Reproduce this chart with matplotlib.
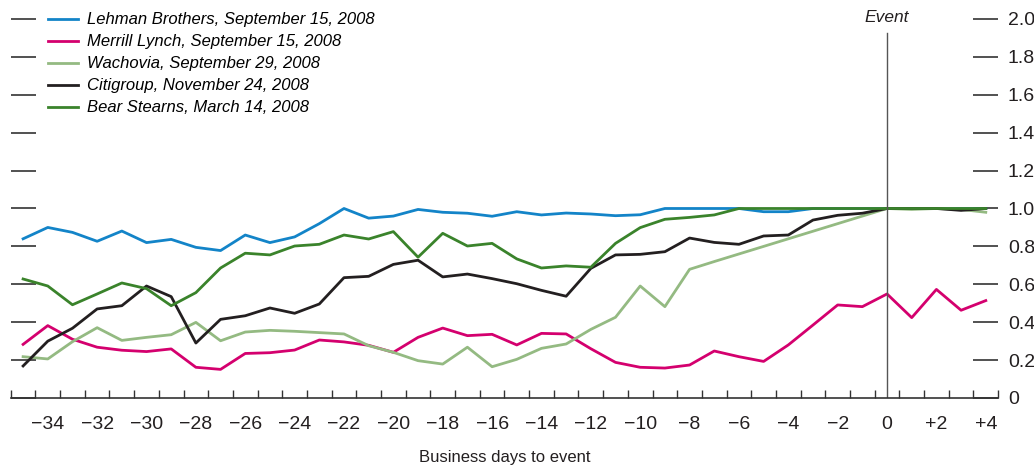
import numpy as np
import matplotlib.pyplot as plt
from matplotlib.ticker import FixedLocator

plt.rcParams['font.family'] = ['Liberation Sans Narrow', 'Liberation Sans', 'DejaVu Sans']

days = np.arange(-35, 5)

lehman = [0.84, 0.90, 0.874, 0.827, 0.881, 0.82, 0.837, 0.795, 0.778, 0.86,
          0.82, 0.85, 0.92, 1.0, 0.949, 0.96, 0.995, 0.98, 0.975, 0.959,
          0.983, 0.966, 0.976, 0.971, 0.962, 0.967, 1.0, 1.0, 1.0, 1.0,
          0.983, 0.983, 1.0, 1.0, 1.0, 1.0, 1.0, 1.0, 1.0, 1.0]
merrill = [0.283, 0.382, 0.31, 0.268, 0.252, 0.245, 0.259, 0.162, 0.151, 0.235,
           0.239, 0.253, 0.306, 0.296, 0.278, 0.241, 0.32, 0.369, 0.329, 0.336,
           0.28, 0.341, 0.338, 0.26, 0.188, 0.162, 0.158, 0.174, 0.248, 0.218,
           0.193, 0.28, 0.385, 0.491, 0.482, 0.549, 0.424, 0.573, 0.463, 0.514]
wachovia = [0.218, 0.206, 0.297, 0.371, 0.304, 0.32, 0.334, 0.399, 0.302, 0.348,
            0.357, 0.352, 0.345, 0.338, 0.276, 0.241, 0.197, 0.179, 0.268, 0.165,
            0.204, 0.262, 0.285, 0.362, 0.426, 0.591, 0.482, 0.679, 0.72, 0.76,
            0.80, 0.84, 0.88, 0.92, 0.96, 1.0, 0.995, 1.0, 0.995, 0.98]
citi = [0.169, 0.30, 0.368, 0.47, 0.487, 0.591, 0.535, 0.29, 0.415, 0.434,
        0.475, 0.447, 0.496, 0.635, 0.642, 0.705, 0.727, 0.639, 0.654, 0.63,
        0.603, 0.568, 0.537, 0.684, 0.755, 0.758, 0.772, 0.844, 0.821, 0.811,
        0.855, 0.86, 0.939, 0.964, 0.975, 1.0, 1.0, 1.0, 0.99, 1.0]
bear = [0.628, 0.591, 0.492, 0.549, 0.607, 0.577, 0.487, 0.556, 0.686, 0.764,
        0.755, 0.802, 0.811, 0.86, 0.839, 0.878, 0.743, 0.869, 0.802, 0.816,
        0.734, 0.686, 0.697, 0.69, 0.816, 0.899, 0.943, 0.953, 0.966, 1.0,
        1.0, 1.0, 1.0, 1.0, 1.0, 1.0, 1.0, 1.0, 1.0, 1.0]

names = ['Lehman Brothers, September 15, 2008', 'Merrill Lynch, September 15, 2008',
         'Wachovia, September 29, 2008', 'Citigroup, November 24, 2008',
         'Bear Stearns, March 14, 2008']
series = [lehman, merrill, wachovia, citi, bear]
colors = ['#1384c8', '#d4006e', '#94ba82', '#231f20', '#3a832b']

xtick_pos = list(range(-34, 5, 2))
xtick_labels = [('+%d' % t if t > 0 else ('0' if t == 0 else '\u2212%d' % -t)) for t in xtick_pos]
ytick_pos = [0, 0.2, 0.4, 0.6, 0.8, 1.0, 1.2, 1.4, 1.6, 1.8, 2.0]
ytick_labels = ['0', '0.2', '0.4', '0.6', '0.8', '1.0', '1.2', '1.4', '1.6', '1.8', '2.0']

fig = plt.figure(figsize=(10.34, 4.70), dpi=100)
ax = fig.add_axes([0.0104, 0.1532, 0.9549, 0.8064])

for vals, nm, c in zip(series, names, colors):
    ax.plot(days, vals, color=c, lw=2, label=nm)

# event marker
ax.axvline(0, ymax=0.963, color='#555555', lw=1)
ax.text(0, 2.01, 'Event', ha='center', va='center', fontsize=12.5, style='italic', color='#231f20')

ax.set_xlim(-35.5, 4.5)
ax.set_ylim(0, 2.0)

for s in ['top', 'left', 'right']:
    ax.spines[s].set_visible(False)
ax.spines['bottom'].set_color('#333333')
ax.spines['bottom'].set_linewidth(1.2)

ax.xaxis.set_major_locator(FixedLocator(xtick_pos))
ax.set_xticklabels(xtick_labels)
ax.xaxis.set_minor_locator(FixedLocator(np.arange(-35.5, 4.6, 1.0)))
ax.tick_params(axis='x', which='major', length=0, pad=13, labelsize=14, colors='#231f20')
ax.tick_params(axis='x', which='minor', direction='in', length=6, width=1, color='#333333')

ax.set_yticks(ytick_pos)
ax.set_yticklabels(ytick_labels)
ax.tick_params(axis='y', which='major', left=True, right=True, labelleft=False, labelright=True,
               direction='in', length=18, width=1.2, color='#333333', pad=7,
               labelsize=14, labelcolor='#231f20')

ax.set_xlabel('Business days to event', fontsize=12, color='#231f20', labelpad=12)

ax.legend(loc='upper left', bbox_to_anchor=(0.0378, 1.035), frameon=False,
          prop={'style': 'italic', 'size': 12}, handlelength=1.8, handletextpad=0.55,
          labelspacing=0.42, borderaxespad=0, borderpad=0.4)
leg = ax.get_legend()
leg.set_bbox_to_anchor((0.031, 1.035))

fig.savefig('out.png', dpi=100)
